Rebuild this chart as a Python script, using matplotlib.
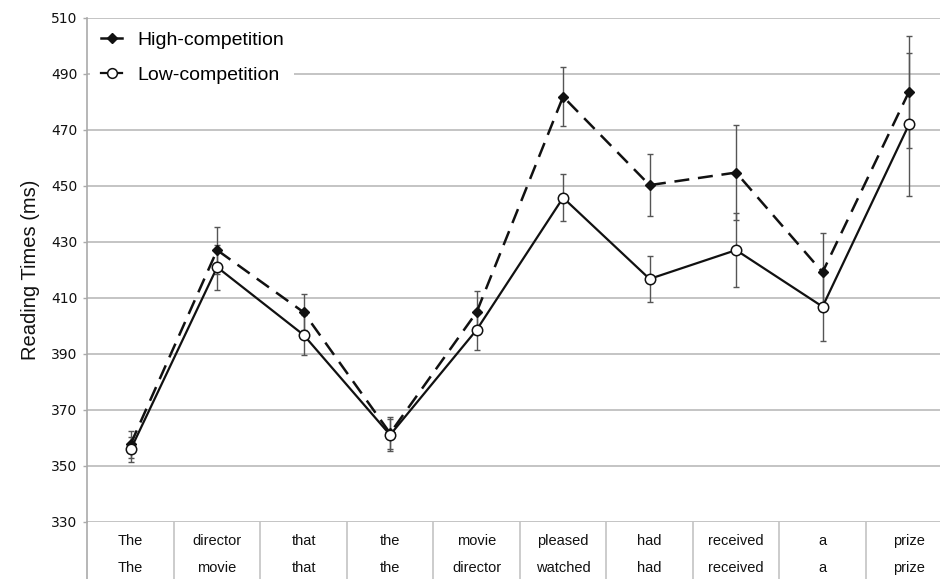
import matplotlib
matplotlib.use("Agg")
import matplotlib.pyplot as plt
import matplotlib.transforms as mtransforms
from matplotlib.lines import Line2D

# Reading times per sentence region
regions_high = ["The", "director", "that", "the", "movie", "pleased", "had", "received", "a", "prize"]
regions_low = ["The", "movie", "that", "the", "director", "watched", "had", "received", "a", "prize"]

high_rt = [357.7, 427.0, 404.8, 361.6, 404.8, 481.8, 450.2, 454.7, 419.1, 483.6]
high_err = [4.8, 8.4, 6.4, 5.8, 7.6, 10.5, 11.0, 17.0, 14.0, 20.0]
low_rt = [355.8, 420.9, 396.7, 361.0, 398.5, 445.7, 416.7, 427.0, 406.8, 471.9]
low_err = [4.5, 8.0, 7.0, 5.8, 7.2, 8.4, 8.2, 13.1, 12.3, 25.6]

y_ticks = [330, 350, 370, 390, 410, 430, 450, 470, 490, 510]

W, H = 940, 579
fig = plt.figure(figsize=(W / 100, H / 100), dpi=100)
left, right, top, bottom = 87.4, 952.3, 17.7, 521.7
ax = fig.add_axes([left / W, 1 - bottom / H, (right - left) / W, (bottom - top) / H])

x = list(range(len(high_rt)))
grid_c = "#c4c4c4"
err_c = "#555555"
ink = "#111111"

ax.errorbar(x, high_rt, yerr=high_err, fmt="none", ecolor=err_c, elinewidth=1.0,
            capsize=2.5, capthick=1.0, zorder=3)
ax.errorbar(x, low_rt, yerr=low_err, fmt="none", ecolor=err_c, elinewidth=1.0,
            capsize=2.5, capthick=1.0, zorder=3)

ax.plot(x, high_rt, color=ink, lw=1.8, ls=(0, (6, 3.5)), marker="D", ms=5.5,
        mfc=ink, mec=ink, zorder=4, label="High-competition")
ax.plot(x, low_rt, color=ink, lw=1.6, ls="-", marker="o", ms=7.5,
        mfc="white", mec=ink, mew=1.1, zorder=5, label="Low-competition")

ax.set_xlim(-0.5, len(x) - 0.5)
ax.set_ylim(330, 510)
ax.set_yticks(y_ticks)
ax.set_yticklabels([str(v) for v in y_ticks], fontfamily="DejaVu Sans",
                   fontsize=10, color="#111111", fontweight="medium")
ax.yaxis.grid(True, color=grid_c, lw=1.4)
ax.set_axisbelow(True)
ax.tick_params(axis="y", length=3, width=1, color="#aaaaaa", pad=4)
ax.set_xticks([])

for s in ["top", "right", "bottom"]:
    ax.spines[s].set_visible(False)
ax.spines["left"].set_color("#aaaaaa")
ax.spines["left"].set_linewidth(1.2)

ax.set_ylabel("Reading Times (ms)", fontfamily="Liberation Sans", fontsize=14.5,
              color=ink, labelpad=8)

# Region table below the plot
trans = mtransforms.blended_transform_factory(ax.transData, ax.transAxes)
table_h = (H - bottom) / (bottom - top)
ax.plot([-0.5, -0.5], [0, -table_h], transform=trans, color="#aaaaaa", lw=1.2,
        clip_on=False)
for b in range(1, len(x)):
    ax.plot([b - 0.5, b - 0.5], [0, -table_h], transform=trans, color=grid_c,
            lw=1.2, clip_on=False)
row1 = -(541 - bottom) / (bottom - top)
row2 = -(568 - bottom) / (bottom - top)
for i in x:
    ax.text(i, row1, regions_high[i], transform=trans, ha="center", va="center",
            fontfamily="Liberation Sans", fontsize=10.5, color=ink)
    ax.text(i, row2, regions_low[i], transform=trans, ha="center", va="center",
            fontfamily="Liberation Sans", fontsize=10.5, color=ink)

h_high = Line2D([], [], color=ink, lw=1.8, marker="D", ms=5.5, mfc=ink, mec=ink)
h_low = Line2D([], [], color=ink, lw=1.6, marker="o", ms=7, mfc="white", mec=ink, mew=1.1)
leg = ax.legend([h_high, h_low], ["High-competition", "Low-competition"],
                loc="upper left", prop={"family": "Liberation Sans", "size": 14},
                frameon=True, fancybox=False, framealpha=1, facecolor="white",
                edgecolor="none", handlelength=1.1, handletextpad=0.75,
                borderpad=0.55, borderaxespad=0.15, labelspacing=0.9)
leg.set_zorder(6)

fig.savefig("out.png", dpi=100)
